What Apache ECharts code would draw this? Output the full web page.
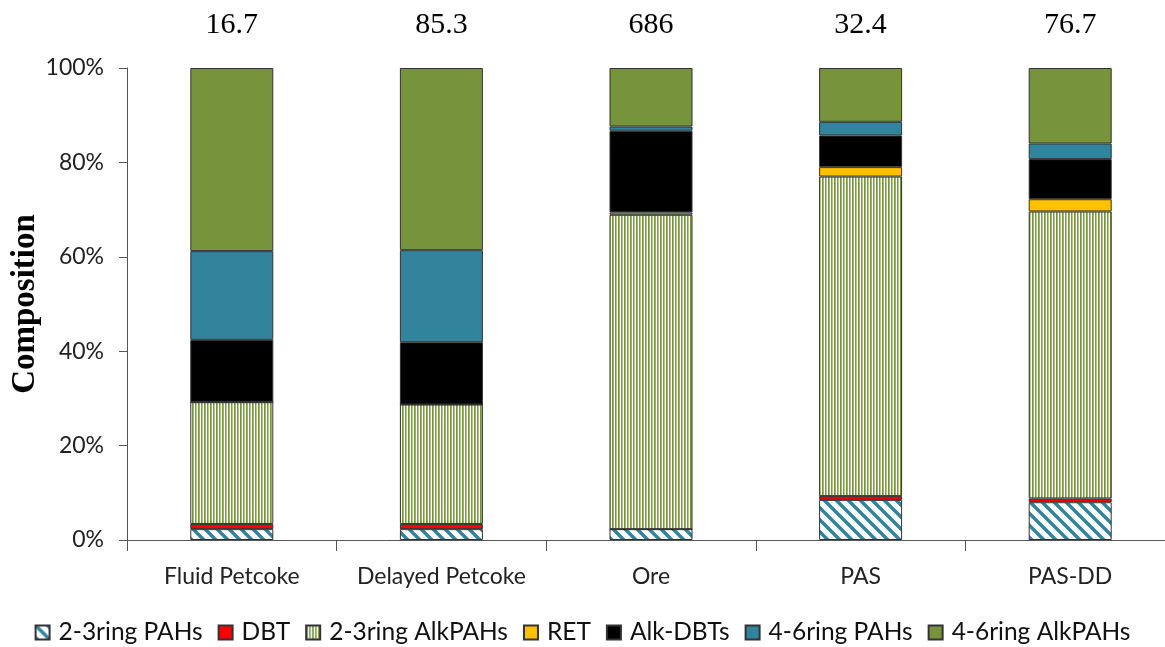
<!DOCTYPE html>
<html>
<head>
<meta charset="utf-8">
<script src="https://cdn.jsdelivr.net/npm/echarts@6/dist/echarts.min.js"></script>
<style>
html,body{margin:0;padding:0;background:#fff;}
#chart{width:1165px;height:647px;}
</style>
</head>
<body>
<div id="chart"></div>
<script>
const categories = ['Fluid Petcoke', 'Delayed Petcoke', 'Ore', 'PAS', 'PAS-DD'];
const topLabels = ['16.7', '85.3', '686', '32.4', '76.7'];
const seriesNames = ['2-3ring PAHs', 'DBT', '2-3ring AlkPAHs', 'RET', 'Alk-DBTs', '4-6ring PAHs', '4-6ring AlkPAHs'];
const pahs23 = [2.3, 2.3, 2.3, 8.5, 8.0];
const dbt = [1.1, 1.1, 0, 0.8, 0.8];
const alkPahs23 = [25.8, 25.3, 66.6, 67.7, 60.8];
const ret = [0, 0, 0.5, 2.0, 2.6];
const alkDbts = [13.2, 13.2, 17.3, 6.7, 8.5];
const pahs46 = [18.8, 19.5, 0.9, 2.9, 3.3];
const alkPahs46 = [38.8, 38.6, 12.4, 11.4, 16.0];
const yTicks = [0, 20, 40, 60, 80, 100];

function hatchPattern() {
  const s = 12;
  const c = document.createElement('canvas');
  c.width = s; c.height = s;
  const g = c.getContext('2d');
  g.fillStyle = '#ffffff';
  g.fillRect(0, 0, s, s);
  g.strokeStyle = '#31849B';
  g.lineWidth = 3.5;
  g.beginPath();
  g.moveTo(-s, -s); g.lineTo(2 * s, 2 * s);
  g.moveTo(-s, 0); g.lineTo(s, 2 * s);
  g.moveTo(0, -s); g.lineTo(2 * s, s);
  g.stroke();
  return c;
}
function stripePattern() {
  const c = document.createElement('canvas');
  c.width = 6; c.height = 4;
  const g = c.getContext('2d');
  const cols = ['#77933C', '#9db574', '#ffffff', '#7f9a45', '#b4c88f', '#ffffff'];
  cols.forEach((col, i) => { g.fillStyle = col; g.fillRect(i, 0, 1, 4); });
  return c;
}

const colors = [
  { image: hatchPattern(), repeat: 'repeat' },
  '#FF0000',
  { image: stripePattern(), repeat: 'repeat' },
  '#FFC000',
  '#000000',
  '#31849B',
  '#77933C'
];
const dataSets = [pahs23, dbt, alkPahs23, ret, alkDbts, pahs46, alkPahs46];

const chart = echarts.init(document.getElementById('chart'), null, { renderer: 'canvas' });
const textFont = 'Lato';
chart.setOption({
  animation: false,
  backgroundColor: '#ffffff',
  grid: { left: 127, top: 68, width: 1048, height: 472, containLabel: false, outerBoundsMode: 'none' },
  legend: {
    data: seriesNames,
    left: 'center',
    top: 615,
    itemWidth: 14,
    itemHeight: 14,
    itemGap: 15,
    icon: 'rect',
    textStyle: { fontFamily: textFont, fontSize: 24.5, color: '#111', padding: [0, 0, 0, 4] }
  },
  xAxis: [
    {
      type: 'category',
      data: categories,
      position: 'bottom',
      axisLine: { lineStyle: { color: '#555', width: 1 } },
      axisTick: { show: true, interval: 0, alignWithLabel: false, length: 11, lineStyle: { color: '#555' } },
      axisLabel: { interval: 0, fontFamily: textFont, fontSize: 23, color: '#222', margin: 25 }
    },
    {
      type: 'category',
      data: topLabels,
      position: 'top',
      axisLine: { show: false },
      axisTick: { show: false },
      axisLabel: { interval: 0, fontFamily: 'Liberation Serif', fontSize: 30, color: '#000', margin: 28 }
    }
  ],
  yAxis: {
    type: 'value',
    min: 0,
    max: 100,
    interval: 20,
    name: 'Composition',
    nameLocation: 'middle',
    nameGap: 85,
    nameMoveOverlap: false,
    nameTextStyle: { fontFamily: 'Liberation Serif', fontSize: 33, fontWeight: 'bold', color: '#000' },
    axisLine: { show: true, lineStyle: { color: '#555', width: 1 } },
    axisTick: { show: true, length: 8, lineStyle: { color: '#555' } },
    splitLine: { show: false },
    axisLabel: { fontFamily: textFont, fontSize: 23, color: '#222', margin: 23, formatter: v => yTicks.includes(v) ? v + '%' : '' }
  },
  series: seriesNames.map((name, i) => ({
    name: name,
    type: 'bar',
    stack: 'total',
    xAxisIndex: 0,
    barWidth: 83,
    data: dataSets[i],
    itemStyle: { color: colors[i], borderColor: '#333', borderWidth: 1 },
    emphasis: { disabled: true }
  }))
});
</script>
</body>
</html>
